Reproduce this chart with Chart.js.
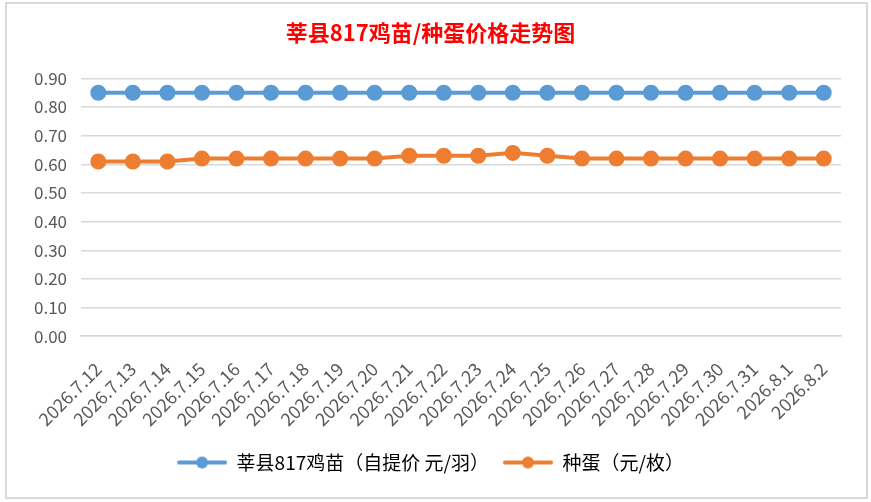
<!DOCTYPE html>
<html>
<head>
<meta charset="utf-8">
<script src="https://cdn.jsdelivr.net/npm/chart.js@4/dist/chart.umd.min.js"></script>
<style>
  html, body { margin: 0; padding: 0; background: #fff; }
  #frame { position: absolute; left: 5px; top: 2px; width: 859px; height: 493px; border: 2px solid #D9D9D9; }
  #wrap { position: absolute; left: 0; top: 0; width: 871px; height: 502px; }
</style>
</head>
<body>
<div id="frame"></div>
<div id="wrap"><canvas id="chartLine"></canvas></div>
<script>
var dates = ['2026.7.12', '2026.7.13', '2026.7.14', '2026.7.15', '2026.7.16', '2026.7.17',
    '2026.7.18', '2026.7.19', '2026.7.20', '2026.7.21', '2026.7.22', '2026.7.23',
    '2026.7.24', '2026.7.25', '2026.7.26', '2026.7.27', '2026.7.28', '2026.7.29',
    '2026.7.30', '2026.7.31', '2026.8.1', '2026.8.2'];
var chickPrice = [0.85, 0.85, 0.85, 0.85, 0.85, 0.85, 0.85, 0.85, 0.85, 0.85, 0.85,
    0.85, 0.85, 0.85, 0.85, 0.85, 0.85, 0.85, 0.85, 0.85, 0.85, 0.85];
var eggPrice = [0.61, 0.61, 0.61, 0.62, 0.62, 0.62, 0.62, 0.62, 0.62, 0.63, 0.63,
    0.63, 0.64, 0.63, 0.62, 0.62, 0.62, 0.62, 0.62, 0.62, 0.62, 0.62];
var seriesNames = ['莘县817鸡苗（自提价 元/羽）', '种蛋（元/枚）'];

var FONT = "'Noto Sans CJK SC', 'Noto Sans', sans-serif";

// little line+dot marker for the legend, like Excel
function legendMarker(color) {
    var c = document.createElement('canvas');
    c.width = 50; c.height = 14;
    var g = c.getContext('2d');
    g.strokeStyle = color;
    g.lineWidth = 4;
    g.lineCap = 'round';
    g.beginPath(); g.moveTo(2, 7); g.lineTo(48, 7); g.stroke();
    g.fillStyle = color;
    g.beginPath(); g.arc(25, 7, 6, 0, Math.PI * 2); g.fill();
    return c;
}

var blue = '#5B9BD5', orange = '#ED7D31';
var markers = [legendMarker(blue), legendMarker(orange)];

var ctx = document.getElementById('chartLine');
var myChart = new Chart(ctx, {
    type: 'line',
    data: {
        labels: dates,
        datasets: [{
            label: seriesNames[0],
            data: chickPrice,
            borderColor: blue,
            backgroundColor: blue,
            borderWidth: 4,
            pointRadius: 6,
            pointHoverRadius: 6,
            pointStyle: 'circle'
        }, {
            label: seriesNames[1],
            data: eggPrice,
            borderColor: orange,
            backgroundColor: orange,
            borderWidth: 4,
            pointRadius: 6,
            pointHoverRadius: 6,
            pointStyle: 'circle'
        }]
    },
    options: {
        responsive: true,
        maintainAspectRatio: false,
        animation: false,
        layout: { padding: { left: 20, right: 30, top: 12, bottom: 20 } },
        plugins: {
            title: {
                display: true,
                text: '莘县817鸡苗/种蛋价格走势图',
                color: '#FF0000',
                font: { family: FONT, size: 22, weight: 'bold' },
                padding: { top: 7, bottom: 33 }
            },
            legend: {
                position: 'bottom',
                labels: {
                    usePointStyle: true,
                    pointStyleWidth: 50,
                    color: '#595959',
                    font: { family: FONT, size: 19 },
                    padding: 14,
                    generateLabels: function (chart) {
                        return chart.data.datasets.map(function (ds, i) {
                            return {
                                text: ds.label,
                                fillStyle: ds.borderColor,
                                strokeStyle: ds.borderColor,
                                pointStyle: markers[i],
                                datasetIndex: i,
                                lineWidth: 0
                            };
                        });
                    }
                }
            },
            tooltip: { enabled: false }
        },
        scales: {
            x: {
                offset: true,
                grid: { display: false, drawTicks: false },
                border: { color: '#D9D9D9', width: 1.5 },
                afterFit: function (scale) { scale.height -= 13; },
                ticks: {
                    color: '#595959',
                    font: { family: FONT, size: 18 },
                    maxRotation: 45,
                    minRotation: 45,
                    autoSkip: false,
                    padding: 22
                }
            },
            y: {
                min: 0,
                max: 0.9,
                grid: { color: '#D9D9D9', lineWidth: 1.5, drawTicks: false },
                border: { display: false },
                ticks: {
                    stepSize: 0.1,
                    color: '#595959',
                    font: { family: FONT, size: 17 },
                    padding: 14,
                    callback: function (v) { return v.toFixed(2); }
                }
            }
        }
    }
});
</script>
</body>
</html>
